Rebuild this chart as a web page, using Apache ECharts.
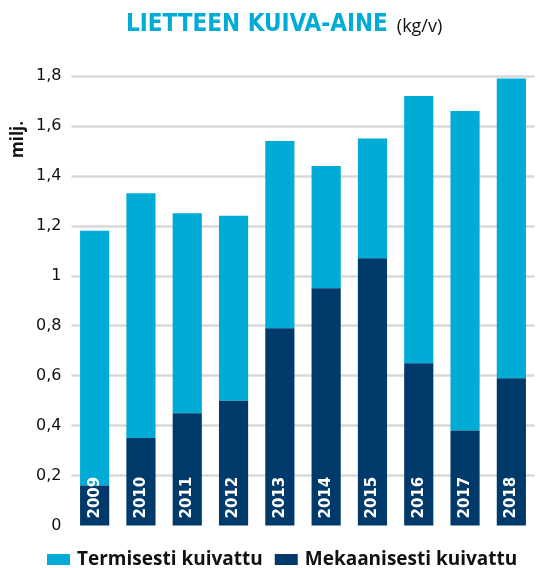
<!DOCTYPE html>
<html>
<head>
<meta charset="utf-8">
<style>html,body{margin:0;padding:0;background:#fff}#c{width:539px;height:568px}</style>
<script src="https://cdn.jsdelivr.net/npm/echarts@6/dist/echarts.min.js"></script>
</head>
<body>
<div id="c"></div>
<script>
const years = ['2009','2010','2011','2012','2013','2014','2015','2016','2017','2018'];
const mekaanisesti = [0.16, 0.35, 0.45, 0.50, 0.79, 0.95, 1.07, 0.65, 0.38, 0.59];
const termisesti = [1.02, 0.98, 0.80, 0.74, 0.75, 0.49, 0.48, 1.07, 1.28, 1.20];
const seriesNames = ['Termisesti kuivattu', 'Mekaanisesti kuivattu'];
const titleMain = 'LIETTEEN KUIVA-AINE';
const titleUnit = '(kg/v)';
const unitLabel = 'milj.';

const LIGHT = '#00abd6';
const DARK = '#003a6b';

const chart = echarts.init(document.getElementById('c'), null, {renderer: 'canvas'});
chart.setOption({
  animation: false,
  title: {
    text: '{a|' + titleMain + '} {b|' + titleUnit + '}',
    left: 121, top: 8,
    textStyle: {
      fontWeight: 'normal',
      rich: {
        a: {fontFamily: 'DejaVu Sans Condensed', fontWeight: 'bold', fontSize: 24, color: LIGHT},
        b: {fontFamily: 'Open Sans', fontWeight: 'normal', fontSize: 18, color: '#111', padding: [4, 0, 0, 4]}
      }
    }
  },
  graphic: [{
    type: 'text', x: 10, y: 158, rotation: Math.PI / 2,
    style: {text: unitLabel, font: 'bold 17px "Open Sans"', fill: '#111', textVerticalAlign: 'top'}
  }],
  legend: {
    top: 545, left: 42,
    itemWidth: 23, itemHeight: 11, itemGap: 12,
    icon: 'rect',
    textStyle: {fontFamily: 'Open Sans', fontWeight: 'bold', fontSize: 19, color: '#111', padding: [0, 0, 0, 2]},
    data: seriesNames
  },
  grid: {left: 71.5, right: 4.5, top: 76, bottom: 42.5, containLabel: false},
  xAxis: {
    type: 'category', data: years,
    axisLine: {show: false}, axisTick: {show: false}, axisLabel: {show: false}
  },
  yAxis: {
    type: 'value', min: 0, max: 1.8, interval: 0.2,
    axisLine: {show: false}, axisTick: {show: false},
    splitLine: {show: true, showMinLine: false, lineStyle: {color: '#d9d9d9', width: 2.5}},
    axisLabel: {
      margin: 10, fontFamily: 'DejaVu Sans', fontSize: 16, color: '#111',
      formatter: v => (Math.round(v * 10) / 10).toString().replace('.', ',')
    }
  },
  series: [
    {
      name: seriesNames[1], type: 'bar', stack: 't', data: mekaanisesti,
      barCategoryGap: '37%', itemStyle: {color: DARK},
      label: {
        show: true, position: 'insideBottom', distance: 7, rotate: 90,
        align: 'left', verticalAlign: 'middle',
        formatter: '{b}', color: '#fff', fontFamily: 'DejaVu Sans', fontWeight: 'bold', fontSize: 15
      },
      z: 3
    },
    {
      name: seriesNames[0], type: 'bar', stack: 't', data: termisesti,
      barCategoryGap: '37%', itemStyle: {color: LIGHT}, z: 2
    }
  ]
});
</script>
</body>
</html>
